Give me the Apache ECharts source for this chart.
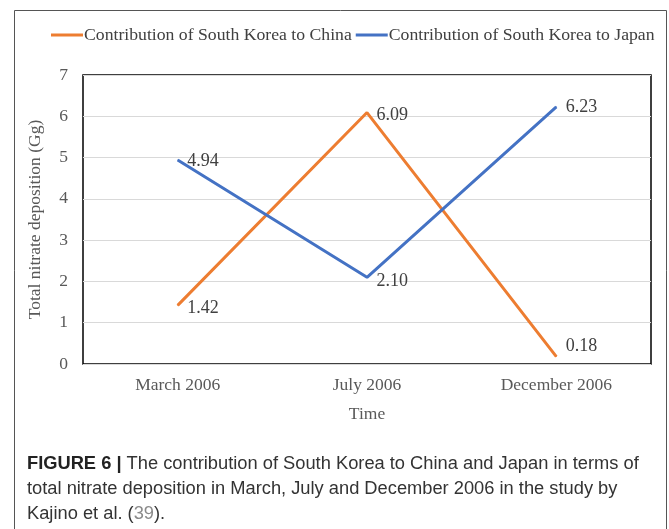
<!DOCTYPE html>
<html><head><meta charset="utf-8">
<script src="https://cdn.jsdelivr.net/npm/echarts@6/dist/echarts.min.js"></script>
<style>html,body{margin:0;padding:0;background:#fff}#c{width:669px;height:529px}</style>
</head><body><div id="c"></div>
<script>
const categories = ['March 2006', 'July 2006', 'December 2006'];
const chinaValues = [1.42, 6.09, 0.18];
const japanValues = [4.94, 2.10, 6.23];
const yTicks = [0, 1, 2, 3, 4, 5, 6, 7];
const chinaName = 'Contribution of South Korea to China';
const japanName = 'Contribution of South Korea to Japan';

const chinaOffsets = [[0, 3], [0, 3], [0, -10]];
const japanOffsets = [[0, 1], [0, 4], [0, 0]];

const serif = '"Liberation Serif", "DejaVu Serif", serif';
const sans = '"Liberation Sans", Arial, sans-serif';
const labelStyle = { show: true, position: 'right', distance: 9, fontFamily: serif, fontSize: 18, color: '#404040',
  formatter: p => Number(p.value).toFixed(2) };

const chart = echarts.init(document.getElementById('c'), null, { renderer: 'canvas' });
chart.setOption({
  animation: false,
  backgroundColor: '#fff',
  legend: {
    top: 21, left: 46, itemGap: 4, itemWidth: 32, itemHeight: 3, icon: 'rect',
    textStyle: { fontFamily: serif, fontSize: 17.7, color: '#404040', padding: [0, 0, 0, -4] },
    data: [chinaName, japanName]
  },
  grid: { left: 83, right: 18, top: 75, bottom: 165, show: true, borderColor: '#000', borderWidth: 1.5 },
  xAxis: {
    type: 'category', data: categories, boundaryGap: true,
    name: 'Time', nameLocation: 'middle', nameGap: 41,
    nameTextStyle: { fontFamily: serif, fontSize: 17.5, color: '#595959' },
    axisLine: { show: false }, axisTick: { show: false },
    axisLabel: { fontFamily: serif, fontSize: 17.5, color: '#595959', margin: 12 }
  },
  yAxis: {
    type: 'value', min: yTicks[0], max: yTicks[yTicks.length - 1], interval: 1,
    name: 'Total nitrate deposition (Gg)', nameLocation: 'middle', nameGap: 39, nameRotate: 90,
    nameTextStyle: { fontFamily: serif, fontSize: 17.5, color: '#595959' },
    axisLine: { show: false }, axisTick: { show: false },
    axisLabel: { fontFamily: serif, fontSize: 17.5, color: '#595959', margin: 15 },
    splitLine: { lineStyle: { color: '#d9d9d9', width: 1 } }
  },
  series: [
    { name: chinaName, type: 'line', symbol: 'circle', symbolSize: 1, showSymbol: true,
      lineStyle: { color: '#ED7D31', width: 3 }, itemStyle: { color: '#ED7D31' },
      data: chinaValues.map((v, i) => ({ value: v, label: Object.assign({}, labelStyle, { offset: chinaOffsets[i] }) })),
      label: labelStyle },
    { name: japanName, type: 'line', symbol: 'circle', symbolSize: 1, showSymbol: true,
      lineStyle: { color: '#4472C4', width: 3 }, itemStyle: { color: '#4472C4' },
      data: japanValues.map((v, i) => ({ value: v, label: Object.assign({}, labelStyle, { offset: japanOffsets[i] }) })),
      label: labelStyle }
  ],
  graphic: [
    { type: 'rect', shape: { x: 14.5, y: 10.5, width: 652, height: 530 }, style: { fill: 'none', stroke: '#555', lineWidth: 1 }, silent: true },
    { type: 'text', left: 27, top: 451, style: {
        text: '{b|FIGURE 6 |} The contribution of South Korea to China and Japan in terms of\ntotal nitrate deposition in March, July and December 2006 in the study by\nKajino et al. ({g|39}).',
        font: '18.3px ' + sans, fill: '#333', lineHeight: 25,
        rich: {
          b: { fontWeight: 'bold', fontSize: 18.3, fontFamily: sans, fill: '#222', lineHeight: 25 },
          g: { fill: '#8a8a8a', fontSize: 18.3, fontFamily: sans, lineHeight: 25 }
        }
      } }
  ]
});
</script></body></html>
